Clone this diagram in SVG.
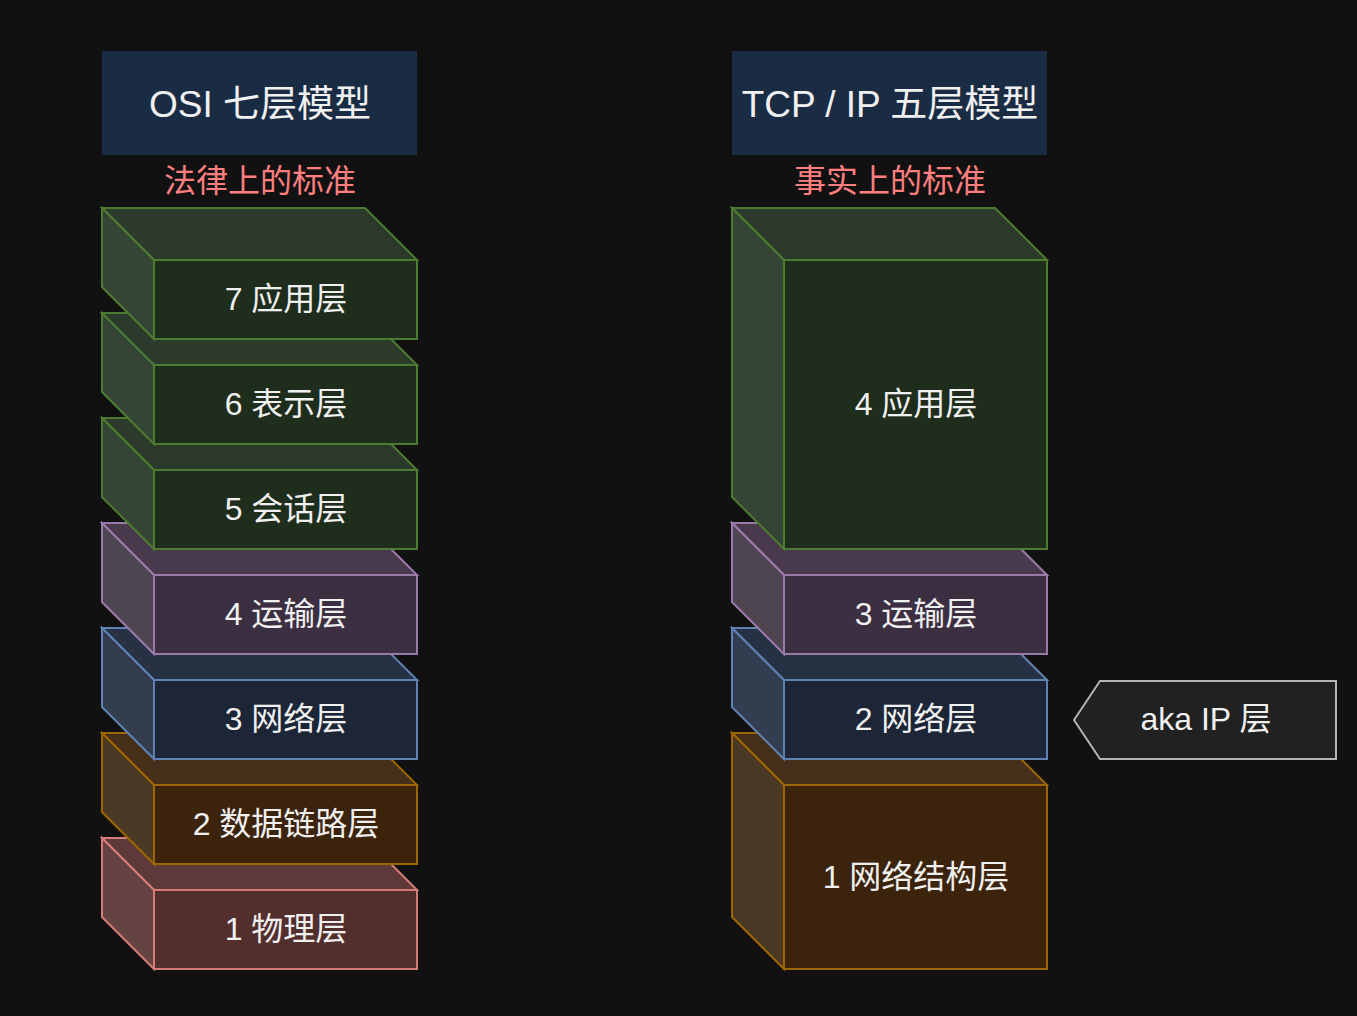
<svg xmlns="http://www.w3.org/2000/svg" width="1357" height="1016" viewBox="0 0 1357 1016">
<style>
text{font-family:"Liberation Sans","Noto Sans CJK SC",sans-serif;fill:#f0f0f0;text-anchor:middle;dominant-baseline:central}
.hdr{font-size:37px}
.sub{font-size:32px;fill:#ff7f7f}
.lbl{font-size:32px}
.g{stroke:#4e7b32;stroke-width:2}
.g .f{fill:#1f2d1d}.g .t{fill:#2b3a2b}.g .l{fill:#354535}
.p{stroke:#9a7aa8;stroke-width:2}
.p .f{fill:#3b2f41}.p .t{fill:#483a4c}.p .l{fill:#4e4553}
.b{stroke:#5f82b2;stroke-width:2}
.b .f{fill:#1c2637}.b .t{fill:#263244}.b .l{fill:#323d50}
.o{stroke:#9c6600;stroke-width:2}
.o .f{fill:#3c230c}.o .t{fill:#452f1a}.o .l{fill:#4b3925}
.r{stroke:#d67c76;stroke-width:2}
.r .f{fill:#522e2d}.r .t{fill:#5d3a39}.r .l{fill:#654342}
</style>
<rect width="1357" height="1016" fill="#111111"/>

<g id="osi-header">
<rect x="102" y="51" width="315" height="104" fill="#1a2c44"/>
<text class="hdr" x="260" y="104">OSI 七层模型</text>
</g>
<g id="osi-sub"><text class="sub" x="260" y="181">法律上的标准</text></g>

<g id="tcp-header">
<rect x="732" y="51" width="315" height="104" fill="#1a2c44"/>
<text class="hdr" x="890" y="104">TCP / IP 五层模型</text>
</g>
<g id="tcp-sub"><text class="sub" x="890" y="181">事实上的标准</text></g>

<!-- OSI layers, drawn bottom to top -->
<g id="osi-1" class="r">
<path class="t" d="M102 838H365L417 890H154Z"/><path class="l" d="M102 838L154 890V969L102 917Z"/><rect class="f" x="154" y="890" width="263" height="79"/>
<text class="lbl" x="286" y="929" stroke="none">1 物理层</text>
</g>
<g id="osi-2" class="o">
<path class="t" d="M102 733H365L417 785H154Z"/><path class="l" d="M102 733L154 785V864L102 812Z"/><rect class="f" x="154" y="785" width="263" height="79"/>
<text class="lbl" x="286" y="824" stroke="none">2 数据链路层</text>
</g>
<g id="osi-3" class="b">
<path class="t" d="M102 628H365L417 680H154Z"/><path class="l" d="M102 628L154 680V759L102 707Z"/><rect class="f" x="154" y="680" width="263" height="79"/>
<text class="lbl" x="286" y="719" stroke="none">3 网络层</text>
</g>
<g id="osi-4" class="p">
<path class="t" d="M102 523H365L417 575H154Z"/><path class="l" d="M102 523L154 575V654L102 602Z"/><rect class="f" x="154" y="575" width="263" height="79"/>
<text class="lbl" x="286" y="614" stroke="none">4 运输层</text>
</g>
<g id="osi-5" class="g">
<path class="t" d="M102 418H365L417 470H154Z"/><path class="l" d="M102 418L154 470V549L102 497Z"/><rect class="f" x="154" y="470" width="263" height="79"/>
<text class="lbl" x="286" y="509" stroke="none">5 会话层</text>
</g>
<g id="osi-6" class="g">
<path class="t" d="M102 313H365L417 365H154Z"/><path class="l" d="M102 313L154 365V444L102 392Z"/><rect class="f" x="154" y="365" width="263" height="79"/>
<text class="lbl" x="286" y="404" stroke="none">6 表示层</text>
</g>
<g id="osi-7" class="g">
<path class="t" d="M102 208H365L417 260H154Z"/><path class="l" d="M102 208L154 260V339L102 287Z"/><rect class="f" x="154" y="260" width="263" height="79"/>
<text class="lbl" x="286" y="299" stroke="none">7 应用层</text>
</g>

<!-- TCP/IP layers -->
<g id="tcp-1" class="o">
<path class="t" d="M732 733H995L1047 785H784Z"/><path class="l" d="M732 733L784 785V969L732 917Z"/><rect class="f" x="784" y="785" width="263" height="184"/>
<text class="lbl" x="916" y="877" stroke="none">1 网络结构层</text>
</g>
<g id="tcp-2" class="b">
<path class="t" d="M732 628H995L1047 680H784Z"/><path class="l" d="M732 628L784 680V759L732 707Z"/><rect class="f" x="784" y="680" width="263" height="79"/>
<text class="lbl" x="916" y="719" stroke="none">2 网络层</text>
</g>
<g id="tcp-3" class="p">
<path class="t" d="M732 523H995L1047 575H784Z"/><path class="l" d="M732 523L784 575V654L732 602Z"/><rect class="f" x="784" y="575" width="263" height="79"/>
<text class="lbl" x="916" y="614" stroke="none">3 运输层</text>
</g>
<g id="tcp-4" class="g">
<path class="t" d="M732 208H995L1047 260H784Z"/><path class="l" d="M732 208L784 260V549L732 497Z"/><rect class="f" x="784" y="260" width="263" height="289"/>
<text class="lbl" x="916" y="404" stroke="none">4 应用层</text>
</g>

<g id="connectors"></g>

<g id="aka-ip">
<path d="M1074 720L1100 681H1336V759H1100Z" fill="#212121" stroke="#b4b4b4" stroke-width="2"/>
<text class="lbl" x="1206" y="719">aka IP 层</text>
</g>
</svg>
